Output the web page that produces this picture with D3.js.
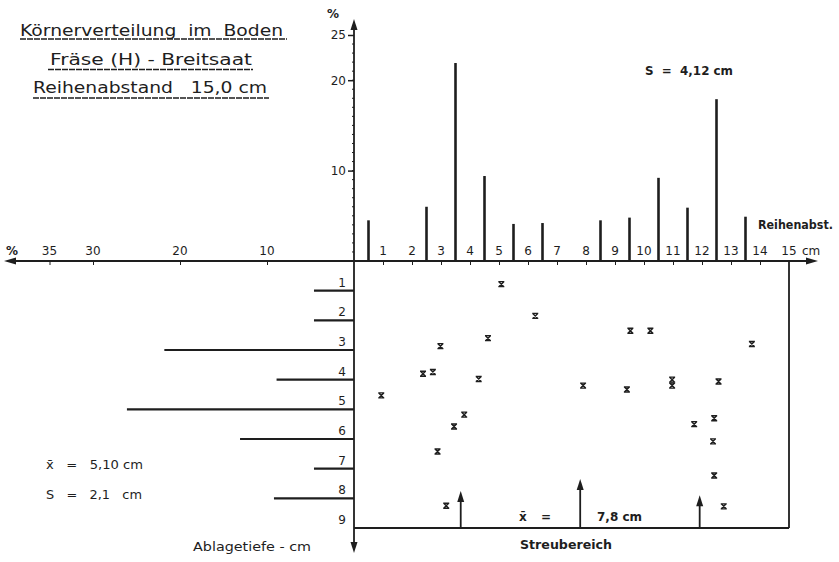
<!DOCTYPE html>
<html>
<head>
<meta charset="utf-8">
<script src="https://cdn.jsdelivr.net/npm/d3@7"></script>
<style>
  body { margin: 0; background: #fff; }
  svg text { font-family: "DejaVu Sans", sans-serif; fill: #1e1e1e; white-space: pre; }
  .ax path, .ax line { stroke: #1e1e1e; }
</style>
</head>
<body>
<svg id="chart" width="839" height="562"></svg>
<script>
// Reihenverteilung (oben): Lage der Saatreihe in cm, Anteil in %
var rowPos = [0.5, 2.5, 3.5, 4.5, 5.5, 6.5, 8.5, 9.5, 10.5, 11.5, 12.5, 13.5];
var rowPct = [4.5, 6.0, 21.9, 9.4, 4.1, 4.2, 4.5, 4.8, 9.2, 5.9, 17.9, 4.9];

// Tiefenverteilung (links): Ablagetiefe in cm, Anteil in %
var depthLevel = [1, 2, 3, 4, 5, 6, 7, 8];
var depthPct = [4.6, 4.6, 21.8, 8.9, 26.1, 13.1, 4.6, 9.2];

// einzelne Körner: Abstand in cm, Tiefe in cm
var grainX = [5.08, 6.25, 9.53, 10.22, 4.62, 2.98, 13.72, 2.38, 2.72, 4.3, 10.97, 10.97, 12.57, 7.9, 9.41,
              0.94, 3.8, 3.45, 2.88, 3.18, 11.73, 12.42, 12.38, 12.42, 12.75];
var grainDepth = [0.78, 1.85, 2.35, 2.35, 2.6, 2.87, 2.8, 3.8, 3.74, 3.98, 4.0, 4.2, 4.06, 4.2, 4.33,
                  4.53, 5.18, 5.58, 6.42, 8.25, 5.5, 5.3, 6.08, 7.23, 8.27];

var cmTicks = [1, 2, 3, 4, 5, 6, 7, 8, 9, 10, 11, 12, 13, 14, 15];
var pctUpTicks = [10, 20, 25];
var pctLeftTicks = [10, 20, 30, 35];

var meanX = 7.8, sX = 4.12;
var spreadX = [meanX - sX, meanX, meanX + sX];
var spreadTop = [7.75, 7.35, 7.9];

var ink = "#1e1e1e";
var svg = d3.select("#chart");

var xCm = d3.scaleLinear().domain([0, 15]).range([354, 789]);
var yPct = d3.scaleLinear().domain([0, 25]).range([261, 35]);
var xPctL = d3.scaleLinear().domain([0, 35]).range([354, 49.5]);
var yDepth = d3.scaleLinear().domain([0, 9]).range([261, 528]);

// Titel
var title = [
  {t: "Körnerverteilung  im  Boden", x: 20, w: 263, y: 36, u0: 20, u1: 287, uy: 39},
  {t: "Fräse (H) - Breitsaat", x: 50, w: 202, y: 65, u0: 48, u1: 253, uy: 69.5},
  {t: "Reihenabstand   15,0 cm", x: 33, w: 234, y: 93, u0: 33, u1: 269, uy: 98}
];
title.forEach(function(d) {
  svg.append("text").attr("x", d.x).attr("y", d.y)
    .attr("font-size", 16).attr("textLength", d.w).attr("lengthAdjust", "spacingAndGlyphs")
    .text(d.t);
  svg.append("line").attr("x1", d.u0).attr("x2", d.u1).attr("y1", d.uy).attr("y2", d.uy)
    .attr("stroke", ink).attr("stroke-width", 1.6).attr("stroke-dasharray", "6,1");
});

// Achsen
var axisY = yPct(0), axisX = xCm(0);
svg.append("line").attr("x1", 8).attr("x2", 812).attr("y1", axisY).attr("y2", axisY)
  .attr("stroke", ink).attr("stroke-width", 1.8);
svg.append("line").attr("x1", axisX).attr("x2", axisX).attr("y1", 26).attr("y2", 546)
  .attr("stroke", ink).attr("stroke-width", 1.8);

function arrow(x, y, dir) {
  var p;
  if (dir == "up") p = [[x, y], [x - 3.5, y + 11], [x + 3.5, y + 11]];
  if (dir == "down") p = [[x, y], [x - 3.5, y - 11], [x + 3.5, y - 11]];
  if (dir == "left") p = [[x, y], [x + 12, y - 3.5], [x + 12, y + 3.5]];
  if (dir == "right") p = [[x, y], [x - 12, y - 3.5], [x - 12, y + 3.5]];
  svg.append("path").attr("d", "M" + p.join("L") + "Z").attr("fill", ink);
}
arrow(axisX, 19, "up");
arrow(axisX, 553, "down");
arrow(4, axisY, "left");
arrow(818, axisY, "right");

// senkrechte Prozentachse
var gUp = svg.append("g").attr("class", "ax").attr("transform", "translate(" + axisX + ",0)")
  .call(d3.axisLeft(yPct).tickValues(pctUpTicks).tickSize(6).tickSizeOuter(0));
gUp.select(".domain").remove();
gUp.selectAll("text").attr("font-size", 12).attr("x", -8).style("font-family", "DejaVu Sans");
gUp.selectAll("line").attr("stroke-width", 1.5);
svg.append("g").selectAll("line").data(d3.range(1, 25)).join("line")
  .attr("x1", axisX - 2).attr("x2", axisX)
  .attr("y1", function(d) { return yPct(d); }).attr("y2", function(d) { return yPct(d); })
  .attr("stroke", ink).attr("stroke-width", 1);
svg.append("text").attr("x", 333).attr("y", 18).attr("font-size", 12)
  .attr("text-anchor", "middle").attr("font-weight", "bold").text("%");

// cm-Achse rechts
var gCm = svg.append("g").attr("class", "ax").attr("transform", "translate(0," + axisY + ")")
  .call(d3.axisBottom(xCm).tickValues(cmTicks.slice(0, 14)).tickSize(4).tickSizeOuter(0).tickFormat(""));
gCm.select(".domain").remove();
svg.append("g").selectAll("text").data(cmTicks).join("text")
  .attr("x", function(d) { return xCm(d); }).attr("y", axisY - 6)
  .attr("text-anchor", "middle").attr("font-size", 12).text(function(d) { return d; });
svg.append("text").attr("x", 802).attr("y", axisY - 6).attr("font-size", 12)
  .text("cm");
svg.append("text").attr("x", 758).attr("y", 229).attr("font-size", 11.5)
  .attr("font-weight", "bold").attr("textLength", 75).attr("lengthAdjust", "spacingAndGlyphs")
  .text("Reihenabst.");

// %-Achse links
var gL = svg.append("g").attr("class", "ax").attr("transform", "translate(0," + axisY + ")")
  .call(d3.axisBottom(xPctL).tickValues(pctLeftTicks).tickSize(4).tickSizeOuter(0).tickFormat(""));
gL.select(".domain").remove();
svg.append("g").selectAll("text").data(pctLeftTicks).join("text")
  .attr("x", function(d) { return xPctL(d); }).attr("y", axisY - 6)
  .attr("text-anchor", "middle").attr("font-size", 12).text(function(d) { return d; });
svg.append("text").attr("x", 12).attr("y", axisY - 6).attr("font-size", 12)
  .attr("text-anchor", "middle").attr("font-weight", "bold").text("%");

// Säulen Reihenverteilung
svg.append("g").selectAll("line").data(rowPos).join("line")
  .attr("x1", function(d) { return xCm(d); }).attr("x2", function(d) { return xCm(d); })
  .attr("y1", axisY).attr("y2", function(d, i) { return yPct(rowPct[i]); })
  .attr("stroke", ink).attr("stroke-width", 2.6);

// Balken Tiefenverteilung
svg.append("g").selectAll("line").data(depthLevel).join("line")
  .attr("x1", axisX).attr("x2", function(d, i) { return xPctL(depthPct[i]); })
  .attr("y1", function(d) { return yDepth(d); }).attr("y2", function(d) { return yDepth(d); })
  .attr("stroke", ink).attr("stroke-width", 2.2);
svg.append("g").selectAll("text").data(d3.range(1, 10)).join("text")
  .attr("x", axisX - 12).attr("y", function(d) { return yDepth(d) - 4; })
  .attr("text-anchor", "middle").attr("font-size", 12).text(function(d) { return d; });

// Rahmen Streubereich
svg.append("line").attr("x1", axisX).attr("x2", xCm(15)).attr("y1", yDepth(9)).attr("y2", yDepth(9))
  .attr("stroke", ink).attr("stroke-width", 2);
svg.append("line").attr("x1", xCm(15)).attr("x2", xCm(15)).attr("y1", axisY).attr("y2", yDepth(9))
  .attr("stroke", ink).attr("stroke-width", 1.8);

// Körner
svg.append("g").selectAll("path").data(grainX).join("path")
  .attr("transform", function(d, i) { return "translate(" + xCm(d) + "," + yDepth(grainDepth[i]) + ")"; })
  .attr("d", "M-2.5,-2.5L2.5,2.5M2.5,-2.5L-2.5,2.5M-3,-2.5H3M-3,2.5H3")
  .attr("stroke", ink).attr("stroke-width", 1.4).attr("fill", "none");

// Pfeile Mittelwert +/- s
spreadX.forEach(function(d, i) {
  svg.append("line").attr("x1", xCm(d)).attr("x2", xCm(d))
    .attr("y1", yDepth(9)).attr("y2", yDepth(spreadTop[i]) + 8)
    .attr("stroke", ink).attr("stroke-width", 1.8);
  arrow(xCm(d), yDepth(spreadTop[i]), "up");
});
svg.append("text").attr("x", 519).attr("y", 521).attr("font-size", 12).attr("font-weight", "bold").text("x\u0304");
svg.append("text").attr("x", 541).attr("y", 521).attr("font-size", 12).attr("font-weight", "bold").text("=");
svg.append("text").attr("x", 597).attr("y", 521).attr("font-size", 12.5).attr("font-weight", "bold")
  .attr("textLength", 45).attr("lengthAdjust", "spacingAndGlyphs").text("7,8 cm");
svg.append("text").attr("x", 566).attr("y", 549).attr("font-size", 12.5).attr("font-weight", "bold")
  .attr("text-anchor", "middle").attr("textLength", 92).attr("lengthAdjust", "spacingAndGlyphs")
  .text("Streubereich");

// Kennwerte
svg.append("text").attr("x", 645).attr("y", 75).attr("font-size", 13).attr("font-weight", "bold")
  .attr("textLength", 88).attr("lengthAdjust", "spacingAndGlyphs").text("S  =  4,12 cm");
svg.append("text").attr("x", 46).attr("y", 469).attr("font-size", 12)
  .attr("textLength", 97).attr("lengthAdjust", "spacingAndGlyphs").text("x\u0304   =   5,10 cm");
svg.append("text").attr("x", 46).attr("y", 499).attr("font-size", 12)
  .attr("textLength", 96).attr("lengthAdjust", "spacingAndGlyphs").text("S   =   2,1   cm");
svg.append("text").attr("x", 193).attr("y", 551).attr("font-size", 12)
  .attr("textLength", 118).attr("lengthAdjust", "spacingAndGlyphs").text("Ablagetiefe - cm");
</script>
</body>
</html>
